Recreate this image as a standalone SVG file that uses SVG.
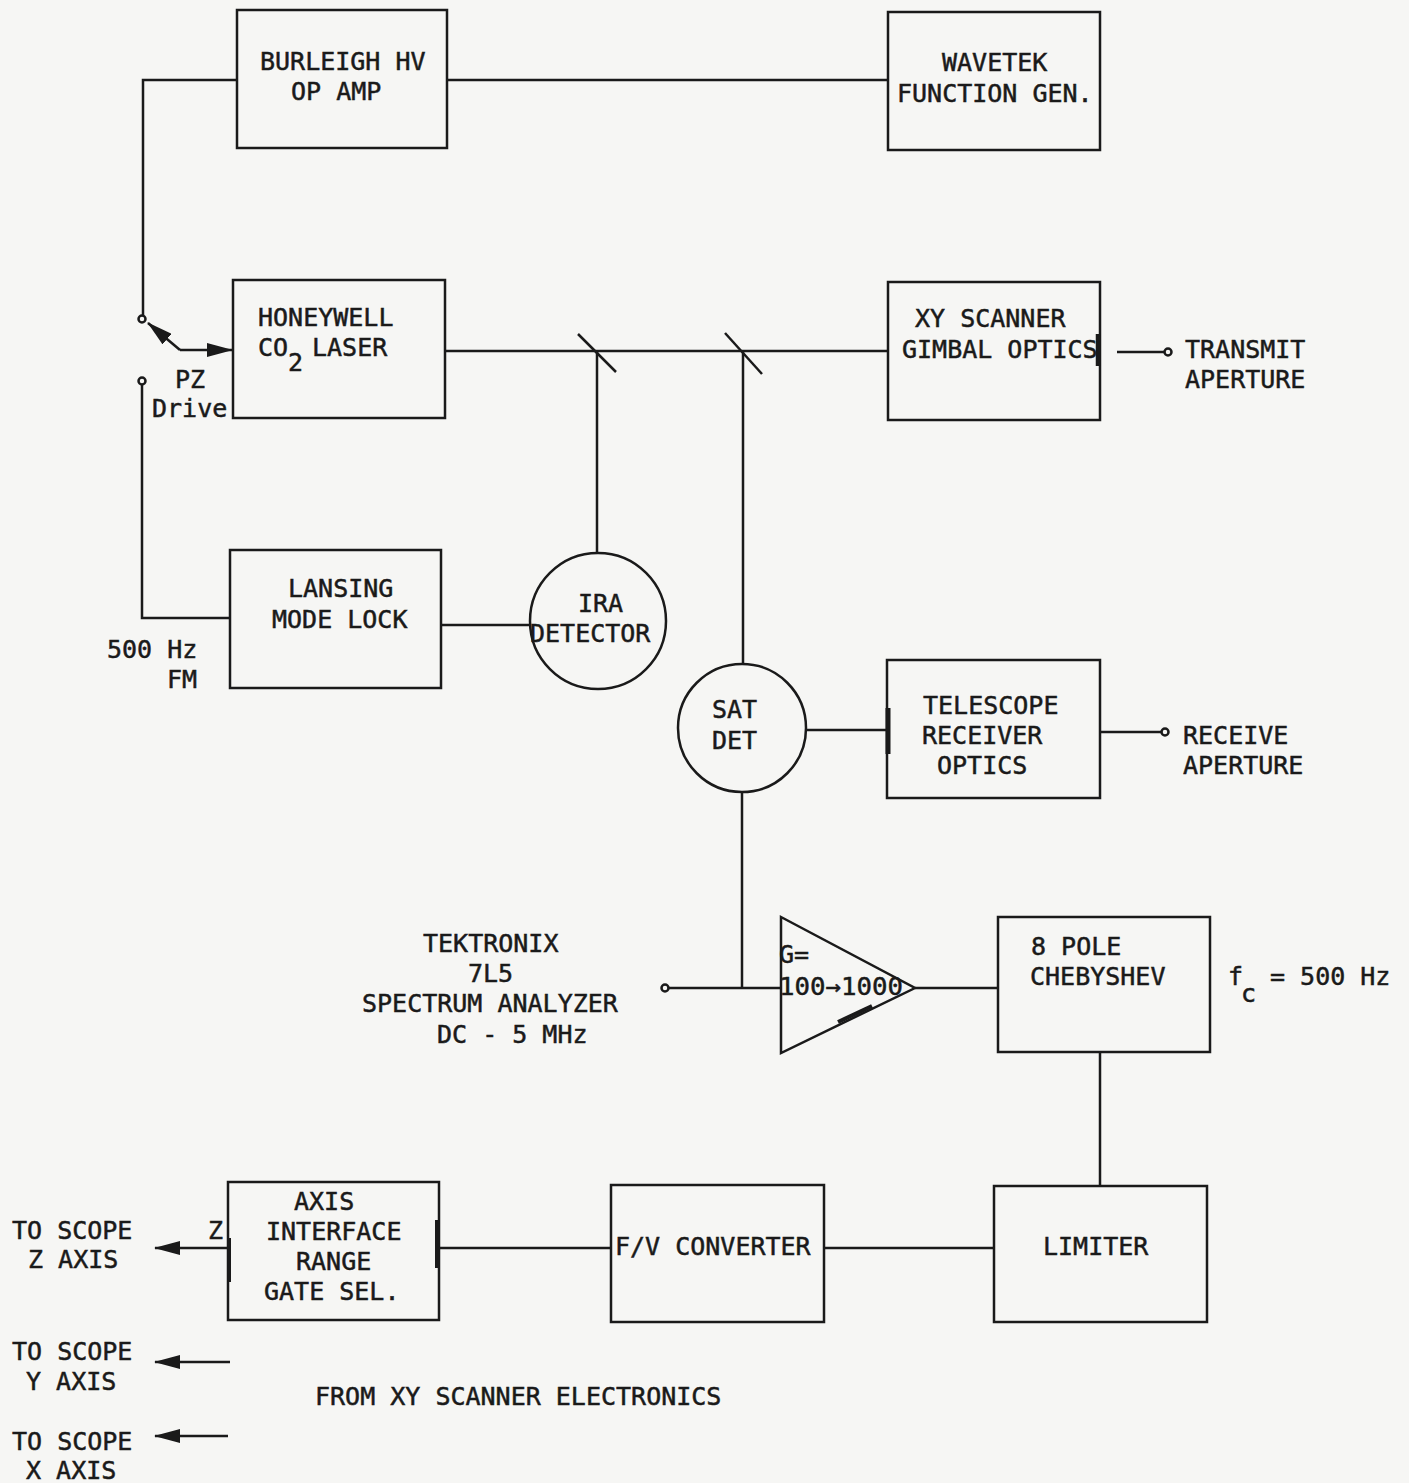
<svg xmlns="http://www.w3.org/2000/svg" width="1409" height="1483" viewBox="0 0 1409 1483">
<style>
.b{fill:none;stroke:#1a1a1a;stroke-width:2.5}
.l{fill:none;stroke:#1a1a1a;stroke-width:2.5}
.t{font-family:"DejaVu Sans Mono","Liberation Mono",monospace;font-size:25px;fill:#1a1a1a;stroke:#1a1a1a;stroke-width:0.5}
.term{fill:#f6f6f4;stroke:#1a1a1a;stroke-width:2.5}
</style>
<defs>
<marker id="ah" viewBox="0 0 26 14" refX="25" refY="7" markerWidth="26" markerHeight="14" markerUnits="userSpaceOnUse" orient="auto">
<path d="M0,0 L26,7 L0,14 Z" fill="#1a1a1a"/>
</marker>
</defs>
<rect x="0" y="0" width="1409" height="1483" fill="#f6f6f4"/>

<g id="burleigh">
<rect class="b" x="237" y="10" width="210" height="138"/>
<text class="t" x="260" y="70">BURLEIGH HV</text>
<text class="t" x="291" y="100">OP AMP</text>
</g>
<g id="wavetek">
<rect class="b" x="888" y="12" width="212" height="138"/>
<text class="t" x="942" y="71">WAVETEK</text>
<text class="t" x="897" y="102">FUNCTION GEN.</text>
</g>
<g id="honeywell">
<rect class="b" x="233" y="280" width="212" height="138"/>
<text class="t" x="258" y="326">HONEYWELL</text>
<text class="t" x="258" y="356">CO</text>
<text class="t" x="288" y="371">2</text>
<text class="t" x="312" y="356">LASER</text>
</g>
<g id="xyscanner">
<rect class="b" x="888" y="282" width="212" height="138"/>
<line x1="1098" y1="334" x2="1098" y2="366" stroke="#1a1a1a" stroke-width="4.5"/>
<text class="t" x="915" y="327">XY SCANNER</text>
<text class="t" x="902" y="358">GIMBAL OPTICS</text>
</g>
<g id="transmit">
<circle class="term" cx="1168" cy="352" r="3.5"/>
<text class="t" x="1185" y="358">TRANSMIT</text>
<text class="t" x="1185" y="388">APERTURE</text>
</g>
<g id="pzdrive">
<circle class="term" cx="142" cy="319" r="3.5"/>
<circle class="term" cx="142" cy="381" r="3.5"/>
<text class="t" x="175" y="388">PZ</text>
<text class="t" x="152" y="417">Drive</text>
</g>
<g id="lansing">
<rect class="b" x="230" y="550" width="211" height="138"/>
<text class="t" x="288" y="597">LANSING</text>
<text class="t" x="272" y="628">MODE LOCK</text>
</g>
<g id="fm">
<text class="t" x="107" y="658">500 Hz</text>
<text class="t" x="167" y="688">FM</text>
</g>
<g id="ira">
<circle class="b" cx="598" cy="621" r="68"/>
<text class="t" x="578" y="612">IRA</text>
<text class="t" x="530" y="642">DETECTOR</text>
</g>
<g id="satdet">
<circle class="b" cx="742" cy="728" r="64"/>
<text class="t" x="712" y="718">SAT</text>
<text class="t" x="712" y="749">DET</text>
</g>
<g id="telescope">
<rect class="b" x="887" y="660" width="213" height="138"/>
<line x1="888" y1="708" x2="888" y2="754" stroke="#1a1a1a" stroke-width="5"/>
<text class="t" x="923" y="714">TELESCOPE</text>
<text class="t" x="922" y="744">RECEIVER</text>
<text class="t" x="937" y="774">OPTICS</text>
</g>
<g id="receive">
<circle class="term" cx="1165" cy="732" r="3.5"/>
<text class="t" x="1183" y="744">RECEIVE</text>
<text class="t" x="1183" y="774">APERTURE</text>
</g>
<g id="tektronix">
<circle class="term" cx="665" cy="988" r="3.5"/>
<text class="t" x="423" y="952">TEKTRONIX</text>
<text class="t" x="468" y="982">7L5</text>
<text class="t" x="362" y="1012">SPECTRUM ANALYZER</text>
<text class="t" x="437" y="1043">DC - 5 MHz</text>
</g>
<g id="amplifier">
<path class="b" d="M781,917 L915,988 L781,1053 Z"/>
<line x1="838" y1="1022" x2="872" y2="1006" stroke="#1a1a1a" stroke-width="4"/>
<text class="t" x="779" y="963">G=</text>
<text class="t" x="779" y="995" textLength="124" lengthAdjust="spacingAndGlyphs">100→1000</text>
</g>
<g id="chebyshev">
<rect class="b" x="998" y="917" width="212" height="135"/>
<text class="t" x="1031" y="955">8 POLE</text>
<text class="t" x="1030" y="985">CHEBYSHEV</text>
<text class="t" x="1228" y="985">f</text>
<text class="t" x="1241" y="1002">c</text>
<text class="t" x="1270" y="985">= 500 Hz</text>
</g>
<g id="limiter">
<rect class="b" x="994" y="1186" width="213" height="136"/>
<text class="t" x="1043" y="1255">LIMITER</text>
</g>
<g id="fvconverter">
<rect class="b" x="611" y="1185" width="213" height="137"/>
<text class="t" x="615" y="1255">F/V CONVERTER</text>
</g>
<g id="axis">
<rect class="b" x="228" y="1182" width="211" height="138"/>
<line x1="437" y1="1220" x2="437" y2="1268" stroke="#1a1a1a" stroke-width="4"/>
<line x1="229" y1="1238" x2="229" y2="1282" stroke="#1a1a1a" stroke-width="4"/>
<text class="t" x="294" y="1210">AXIS</text>
<text class="t" x="266" y="1240">INTERFACE</text>
<text class="t" x="296" y="1270">RANGE</text>
<text class="t" x="264" y="1300">GATE SEL.</text>
<text class="t" x="208" y="1239">Z</text>
</g>
<g id="scope-z">
<text class="t" x="12" y="1239">TO SCOPE</text>
<text class="t" x="28" y="1268">Z AXIS</text>
</g>
<g id="scope-y">
<text class="t" x="12" y="1360">TO SCOPE</text>
<text class="t" x="26" y="1390">Y AXIS</text>
</g>
<g id="xyelectronics">
<text class="t" x="315" y="1405">FROM XY SCANNER ELECTRONICS</text>
</g>
<g id="scope-x">
<text class="t" x="12" y="1450">TO SCOPE</text>
<text class="t" x="26" y="1479">X AXIS</text>
</g>

<g id="connectors">
<polyline class="l" points="237,80 143,80 143,315"/>
<line class="l" x1="447" y1="80" x2="888" y2="80"/>
<polyline class="l" points="230,618 142,618 142,385"/>
<line class="l" x1="180" y1="350" x2="148" y2="323" marker-end="url(#ah)"/>
<line class="l" x1="180" y1="350" x2="232" y2="350" marker-end="url(#ah)"/>
<line class="l" x1="445" y1="351" x2="888" y2="351"/>
<line class="l" x1="578" y1="334" x2="616" y2="372"/>
<line class="l" x1="725" y1="333" x2="762" y2="374"/>
<line class="l" x1="597" y1="351" x2="597" y2="553"/>
<line class="l" x1="743" y1="351" x2="743" y2="664"/>
<line class="l" x1="1117" y1="352" x2="1164" y2="352"/>
<line class="l" x1="441" y1="625" x2="530" y2="625"/>
<line class="l" x1="806" y1="730" x2="887" y2="730"/>
<line class="l" x1="1100" y1="732" x2="1161" y2="732"/>
<line class="l" x1="742" y1="792" x2="742" y2="988"/>
<line class="l" x1="669" y1="988" x2="781" y2="988"/>
<line class="l" x1="915" y1="988" x2="998" y2="988"/>
<line class="l" x1="1100" y1="1052" x2="1100" y2="1186"/>
<line class="l" x1="824" y1="1248" x2="994" y2="1248"/>
<line class="l" x1="439" y1="1248" x2="611" y2="1248"/>
<line class="l" x1="228" y1="1248" x2="155" y2="1248" marker-end="url(#ah)"/>
<line class="l" x1="230" y1="1362" x2="155" y2="1362" marker-end="url(#ah)"/>
<line class="l" x1="228" y1="1436" x2="155" y2="1436" marker-end="url(#ah)"/>
</g>
</svg>
